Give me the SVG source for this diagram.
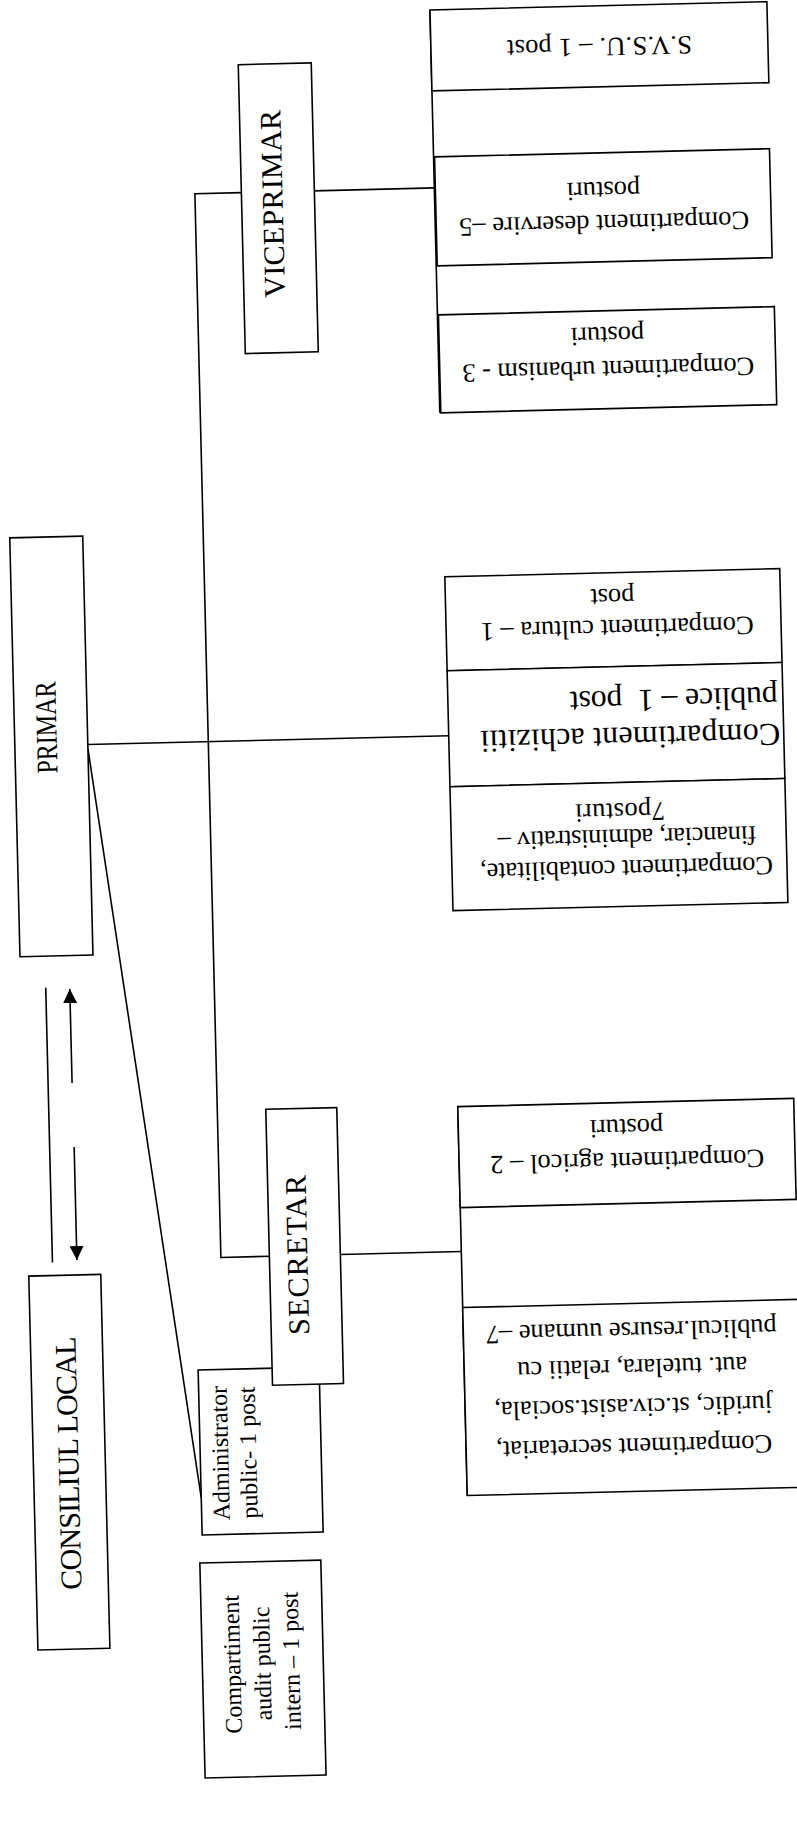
<svg xmlns="http://www.w3.org/2000/svg" width="797" height="1824" viewBox="0 0 797 1824">
<style>
.box{fill:#fff;stroke:#000;stroke-width:1.6}
.ln{fill:none;stroke:#000;stroke-width:1.6}
text{font-family:"Liberation Serif","Times New Roman",serif;fill:#000}
.big{font-size:30px}
.sm{font-size:24px}
.r{font-size:26.5px}
.rb{font-size:32px}
</style>
<defs>
<marker id="ah" markerUnits="userSpaceOnUse" markerWidth="14" markerHeight="14" refX="14" refY="7" orient="auto">
<path d="M0,0 L14,7 L0,14 z" fill="#000"/>
</marker>
</defs>
<rect width="797" height="1824" fill="#fff"/>
<g transform="rotate(-1.4 398.5 912)">
<g id="connectors">
<path class="ln" d="M452,11 V414"/>
<path class="ln" d="M332,189 H452"/>
<path class="ln" d="M259,189 H212.5 V1253 H261"/>
<path class="ln" d="M92,737 H453"/>
<path class="ln" d="M332,1253 H453"/>
<path class="ln" d="M453,1108 V1497"/>
<path class="ln" d="M92,741 L187,1493"/>
<path class="ln" d="M44,979 V1254"/>
<path class="ln" d="M68,1075 V981" marker-end="url(#ah)"/>
<path class="ln" d="M68.5,1139 V1252" marker-end="url(#ah)"/>
</g>
<g id="svsu">
<rect class="box" x="452" y="11" width="337" height="81"/>
<text class="r" x="620.5" y="60.7" text-anchor="middle" textLength="185" transform="rotate(180 620.5 52)">S.V.S.U. – 1 post</text>
</g>
<g id="deservire">
<rect class="box" x="453" y="158" width="335" height="109"/>
<text class="r" x="621" y="237.7" text-anchor="middle" textLength="290" transform="rotate(180 621 229)">Compartiment deservire –5</text>
<text class="r" x="621" y="204.7" text-anchor="middle" transform="rotate(180 621 196)">posturi</text>
</g>
<g id="urbanism">
<rect class="box" x="453" y="316" width="336" height="98"/>
<text class="r" x="621.5" y="383.7" text-anchor="middle" textLength="292" transform="rotate(180 621.5 375)">Compartiment urbanism - 3</text>
<text class="r" x="621.5" y="349.7" text-anchor="middle" transform="rotate(180 621.5 341)">posturi</text>
</g>
<g id="viceprimar">
<rect class="box" x="259" y="61" width="73" height="289"/>
<text class="big" x="300" y="201" text-anchor="middle" textLength="188" transform="rotate(-90 300 201)">VICEPRIMAR</text>
</g>
<g id="primar">
<rect class="box" x="19" y="528.5" width="73" height="419"/>
<text class="big" x="61" y="719" text-anchor="middle" textLength="92" lengthAdjust="spacingAndGlyphs" transform="rotate(-90 61 719)">PRIMAR</text>
</g>
<g id="cultura">
<rect class="box" x="453" y="578" width="335" height="94"/>
<text class="r" x="624" y="642.7" text-anchor="middle" textLength="273" transform="rotate(180 624 634)">Compartiment cultura – 1</text>
<text class="r" x="620" y="611.7" text-anchor="middle" transform="rotate(180 620 603)">post</text>
</g>
<g id="achizitii">
<rect class="box" x="453" y="672" width="335" height="116"/>
<text class="rb" x="634.4" y="754.2" text-anchor="middle" textLength="300" transform="rotate(180 634.4 743.6)">Compartiment achizitii</text>
<text class="rb" x="679" y="717.3" text-anchor="middle" textLength="208" xml:space="preserve" transform="rotate(180 679 706.7)">publice – 1  post</text>
</g>
<g id="contabilitate">
<rect class="box" x="453" y="788" width="335" height="124"/>
<text class="r" x="627.6" y="883.3" text-anchor="middle" textLength="293" transform="rotate(180 627.6 874.6)">Compartiment contabilitate,</text>
<text class="r" x="628.8" y="852.3" text-anchor="middle" textLength="259" transform="rotate(180 628.8 843.6)">financiar, administrativ –</text>
<text class="r" x="622.4" y="826.1" text-anchor="middle" textLength="90" transform="rotate(180 622.4 817.4)">7posturi</text>
</g>
<g id="administrator">
<rect class="box" x="187" y="1365" width="121" height="165"/>
<text class="sm" x="215" y="1516" transform="rotate(-90 215 1516)">Administrator</text>
<text class="sm" x="243" y="1515" transform="rotate(-90 243 1515)">public- 1 post</text>
</g>
<g id="secretar">
<rect class="box" x="261" y="1106" width="71" height="276"/>
<text class="big" x="299" y="1252.5" text-anchor="middle" textLength="160" transform="rotate(-90 299 1252.5)">SECRETAR</text>
</g>
<g id="agricol">
<rect class="box" x="453" y="1108" width="336" height="101"/>
<text class="r" x="621" y="1175.7" text-anchor="middle" textLength="274" transform="rotate(180 621 1167)">Compartiment agricol – 2</text>
<text class="r" x="621" y="1142.2" text-anchor="middle" transform="rotate(180 621 1133.5)">posturi</text>
</g>
<g id="secretariat">
<rect class="box" x="453" y="1309" width="336" height="188"/>
<text class="r" x="621" y="1461.4" text-anchor="middle" textLength="276" transform="rotate(180 621 1452.7)">Compartiment secretariat,</text>
<text class="r" x="621" y="1421.9" text-anchor="middle" textLength="278" transform="rotate(180 621 1413.2)">juridic, st.civ.asist.sociala,</text>
<text class="r" x="621" y="1382.4" text-anchor="middle" textLength="230" transform="rotate(180 621 1373.7)">aut. tutelara, relatii cu</text>
<text class="r" x="621" y="1345.4" text-anchor="middle" textLength="291" transform="rotate(180 621 1336.7)">publicul.resurse uumane –7</text>
</g>
<g id="consiliul">
<rect class="box" x="20" y="1267" width="72" height="374"/>
<text class="big" x="65" y="1455" text-anchor="middle" textLength="253" transform="rotate(-90 65 1455)">CONSILIUL LOCAL</text>
</g>
<g id="audit">
<rect class="box" x="184" y="1558" width="121" height="215"/>
<text class="sm" x="222" y="1660" text-anchor="middle" transform="rotate(-90 222 1660)">Compartiment</text>
<text class="sm" x="252" y="1660" text-anchor="middle" transform="rotate(-90 252 1660)">audit public</text>
<text class="sm" x="281" y="1658" text-anchor="middle" transform="rotate(-90 281 1658)">intern – 1 post</text>
</g>
</g>
</svg>
